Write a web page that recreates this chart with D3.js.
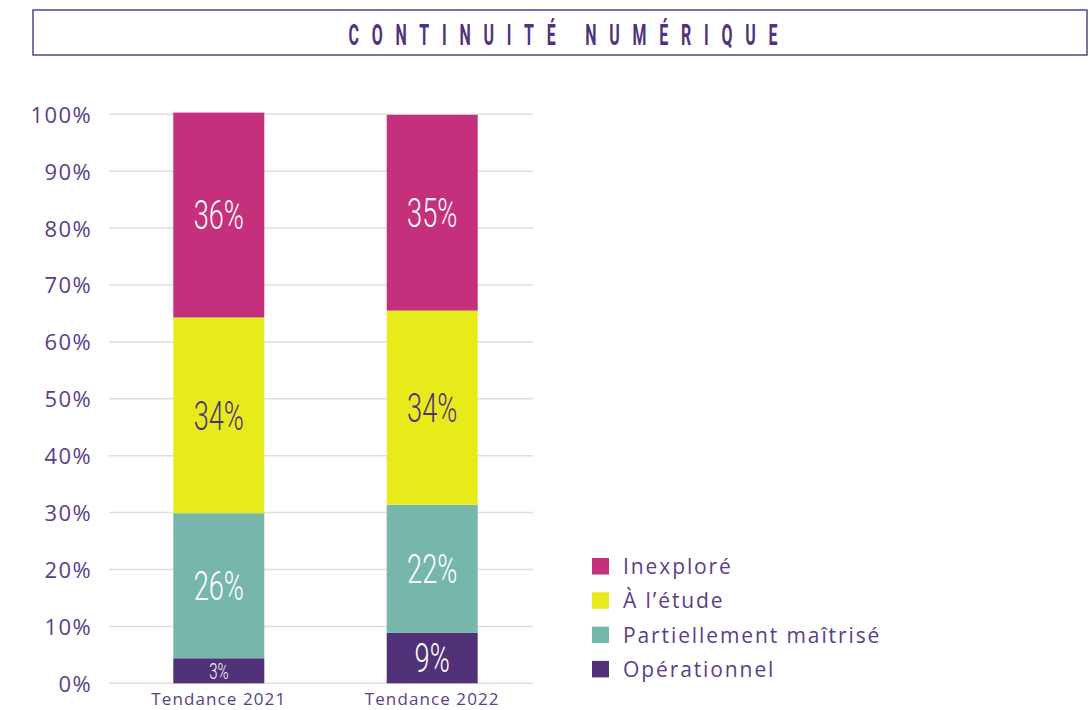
<!DOCTYPE html>
<html>
<head>
<meta charset="utf-8">
<script src="https://cdn.jsdelivr.net/npm/d3@7"></script>
<style>
  body { margin: 0; background: #fff; }
  svg { display: block; }
</style>
</head>
<body>
<div id="chart"></div>
<script>
// data
var categories = ["Tendance 2021", "Tendance 2022"];
var seriesNames = ["Opérationnel", "Partiellement maîtrisé", "À l’étude", "Inexploré"];
var operationnel = [4.4, 8.9];
var partiellement = [25.5, 22.5];
var etude = [34.4, 34.1];
var inexplore = [36.0, 34.4];
// labels printed on the segments
var labelsOperationnel = ["3%", "9%"];
var labelsPartiellement = ["26%", "22%"];
var labelsEtude = ["34%", "34%"];
var labelsInexplore = ["36%", "35%"];
var yTicks = [0, 10, 20, 30, 40, 50, 60, 70, 80, 90, 100];
var legendOrder = ["Inexploré", "À l’étude", "Partiellement maîtrisé", "Opérationnel"];

var colors = {
    "Opérationnel": "#513279",
    "Partiellement maîtrisé": "#77b6ab",
    "À l’étude": "#e8eb1a",
    "Inexploré": "#c5307c"
};
var textPurple = "#5a3e8a";

var W = 1090, H = 710;
var svg = d3.select("#chart").append("svg")
    .attr("width", W).attr("height", H);

// title box
svg.append("rect")
    .attr("x", 33).attr("y", 10)
    .attr("width", 1054).attr("height", 45)
    .attr("fill", "none")
    .attr("stroke", "#5b3f8c")
    .attr("stroke-width", 1.5);

svg.append("g")
    .attr("transform", "translate(563,45) scale(0.55,1)")
  .append("text")
    .attr("text-anchor", "middle")
    .attr("font-family", "Roboto, sans-serif")
    .attr("font-weight", "bold")
    .attr("font-size", 29)
    .attr("fill", "#4f3280")
    .attr("textLength", 780)
    .attr("lengthAdjust", "spacing")
    .text("CONTINUITÉ NUMÉRIQUE");

// build table for the stack
var table = categories.map(function(c, i) {
    return {
        cat: c,
        "Opérationnel": operationnel[i],
        "Partiellement maîtrisé": partiellement[i],
        "À l’étude": etude[i],
        "Inexploré": inexplore[i]
    };
});
var labelMap = {
    "Opérationnel": labelsOperationnel,
    "Partiellement maîtrisé": labelsPartiellement,
    "À l’étude": labelsEtude,
    "Inexploré": labelsInexplore
};

var x = d3.scaleBand()
    .domain(categories)
    .range([118.3, 532.7])
    .paddingInner(0.5736)
    .paddingOuter(0.2577);

var y = d3.scaleLinear()
    .domain([0, 100])
    .range([683.3, 114.3]);

// gridlines
svg.append("g")
    .selectAll("line")
    .data(yTicks)
    .enter()
    .append("line")
        .attr("x1", 109).attr("x2", 533)
        .attr("y1", function(d) { return y(d); })
        .attr("y2", function(d) { return y(d); })
        .attr("stroke", "#e2dfd8")
        .attr("stroke-width", 1.5);

// y axis labels
var yAxis = svg.append("g")
    .attr("transform", "translate(92,0)")
    .call(d3.axisLeft(y).tickValues(yTicks).tickSize(0).tickPadding(0)
        .tickFormat(function(d) { return d + "%"; }));
yAxis.select(".domain").remove();
yAxis.selectAll("text")
    .attr("font-family", "'Open Sans', sans-serif")
    .attr("font-size", 22)
    .attr("letter-spacing", 1.4)
    .attr("fill", textPurple)
    .attr("dy", "0.36em");

// x axis labels
var xAxis = svg.append("g")
    .attr("transform", "translate(0,683.3)")
    .call(d3.axisBottom(x).tickSize(0).tickPadding(0));
xAxis.select(".domain").remove();
xAxis.selectAll("text")
    .attr("font-family", "'Open Sans', sans-serif")
    .attr("font-size", 17)
    .attr("letter-spacing", 1.1)
    .attr("fill", textPurple)
    .attr("dy", "0")
    .attr("y", 22);

// stacked bars
var stacked = d3.stack().keys(seriesNames)(table);

var layers = svg.append("g")
    .selectAll("g")
    .data(stacked)
    .enter()
    .append("g")
        .attr("fill", function(d) { return colors[d.key]; });

layers.selectAll("rect")
    .data(function(d) { return d; })
    .enter()
    .append("rect")
        .attr("x", function(d) { return x(d.data.cat); })
        .attr("y", function(d) { return y(d[1]); })
        .attr("width", x.bandwidth())
        .attr("height", function(d) { return y(d[0]) - y(d[1]); });

// segment labels
layers.each(function(layer) {
    var g = d3.select(this);
    g.selectAll("g.lbl")
        .data(layer)
        .enter()
        .append("g")
            .attr("class", "lbl")
            .attr("transform", function(d) {
                var cx = x(d.data.cat) + x.bandwidth() / 2;
                var cy = (y(d[0]) + y(d[1])) / 2;
                return "translate(" + cx + "," + cy + ") scale(0.68,1)";
            })
        .append("text")
            .attr("text-anchor", "middle")
            .attr("dy", "0.36em")
            .attr("font-family", "Roboto, sans-serif")
            .attr("font-weight", 300)
            .attr("font-size", function(d) { return (d[1] - d[0]) < 6 ? 22 : 40; })
            .attr("fill", function() { return layer.key === "À l’étude" ? "#513279" : "#ffffff"; })
            .text(function(d, i) { return labelMap[layer.key][i]; });
});

// legend
var legend = svg.append("g")
    .selectAll("g")
    .data(legendOrder)
    .enter()
    .append("g")
        .attr("transform", function(d, i) { return "translate(592," + (558 + i * 34.3) + ")"; });

legend.append("rect")
    .attr("width", 17).attr("height", 16.5)
    .attr("fill", function(d) { return colors[d]; });

legend.append("text")
    .attr("x", 31).attr("y", 8.5)
    .attr("dy", "0.36em")
    .attr("font-family", "'Open Sans', sans-serif")
    .attr("font-size", 21)
    .attr("letter-spacing", 1.9)
    .attr("fill", textPurple)
    .text(function(d) { return d; });
</script>
</body>
</html>
